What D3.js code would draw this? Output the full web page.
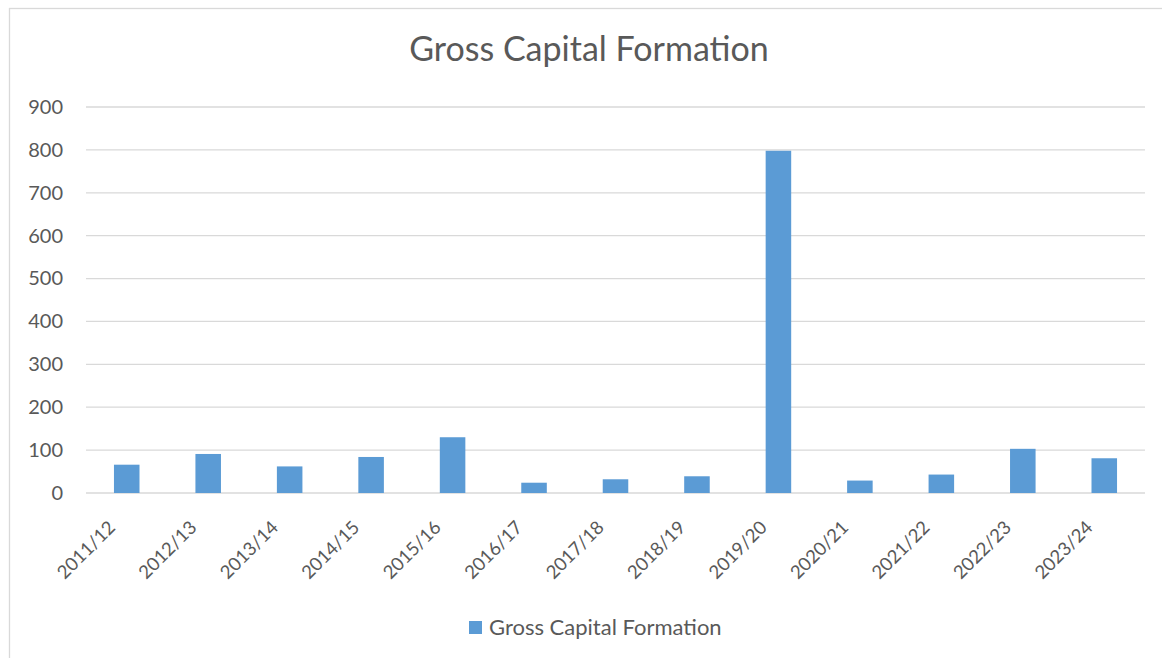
<!DOCTYPE html>
<html>
<head>
<meta charset="utf-8">
<script src="https://cdn.jsdelivr.net/npm/d3@7"></script>
<style>
  body { margin: 0; background: #fff; }
  text { font-family: Lato, "Open Sans", sans-serif; fill: #595959; }
</style>
</head>
<body>
<div id="container"></div>
<script>
// data
const years = ["2011/12", "2012/13", "2013/14", "2014/15", "2015/16", "2016/17", "2017/18",
  "2018/19", "2019/20", "2020/21", "2021/22", "2022/23", "2023/24"];
const gcf = [66, 91, 62, 84, 130, 24, 32, 39, 798, 29, 43, 103, 81];
const yTicks = [0, 100, 200, 300, 400, 500, 600, 700, 800, 900];
const seriesName = "Gross Capital Formation";

const width = 1162, height = 658;
const marginLeft = 86, marginRight = 17, marginTop = 107, marginBottom = 165;

const svg = d3.select("#container").append("svg")
    .attr("width", width)
    .attr("height", height)
    .attr("viewBox", [0, 0, width, height]);

// chart area border (runs off the right/bottom edge like the screenshot)
svg.append("rect")
    .attr("x", 9.5).attr("y", 8.5)
    .attr("width", 1160).attr("height", 660)
    .attr("fill", "#fff")
    .attr("stroke", "#d9d9d9")
    .attr("stroke-width", 1.3);

const x = d3.scaleBand()
    .domain(years)
    .range([marginLeft, width - marginRight])
    .padding(0);

const y = d3.scaleLinear()
    .domain([0, 900])
    .range([height - marginBottom, marginTop]);

// gridlines
svg.append("g")
    .attr("stroke", "#d9d9d9")
    .attr("stroke-width", 1.3)
    .selectAll("line")
    .data(yTicks)
    .join("line")
    .attr("x1", marginLeft)
    .attr("x2", width - marginRight)
    .attr("y1", d => y(d))
    .attr("y2", d => y(d));

// y axis labels
svg.append("g")
    .attr("transform", `translate(${marginLeft},0)`)
    .call(d3.axisLeft(y).tickValues(yTicks).tickSize(0).tickPadding(23))
    .call(g => g.select(".domain").remove())
    .call(g => g.selectAll("text")
        .attr("font-size", 20)
        .attr("font-family", "Lato, 'Open Sans', sans-serif")
        .attr("fill", "#595959"));

// bars, excel style gap width ~219%
const barW = x.bandwidth() / 3.19;
svg.append("g")
    .attr("fill", "#5b9bd5")
    .selectAll("rect")
    .data(gcf)
    .join("rect")
    .attr("x", (d, i) => x(years[i]) + (x.bandwidth() - barW) / 2)
    .attr("y", d => y(d))
    .attr("width", barW)
    .attr("height", d => y(0) - y(d));

// x axis labels, rotated
svg.append("g")
    .attr("transform", `translate(0,${height - marginBottom})`)
    .call(d3.axisBottom(x).tickSize(0).tickPadding(0))
    .call(g => g.select(".domain").remove())
    .call(g => g.selectAll("text")
        .attr("font-size", 18.5)
        .attr("font-family", "Lato, 'Open Sans', sans-serif")
        .attr("fill", "#595959")
        .attr("text-anchor", "end")
        .attr("dy", "0.35em")
        .attr("transform", "translate(-15,31) rotate(-45)"));

// title
svg.append("text")
    .attr("x", 589)
    .attr("y", 61)
    .attr("text-anchor", "middle")
    .attr("font-size", 34)
    .text(seriesName);

// legend
const legend = svg.append("g").attr("transform", "translate(469,621)");
legend.append("rect")
    .attr("width", 13).attr("height", 13)
    .attr("fill", "#5b9bd5");
legend.append("text")
    .attr("x", 20)
    .attr("y", 14)
    .attr("font-size", 22)
    .text(seriesName);
</script>
</body>
</html>
